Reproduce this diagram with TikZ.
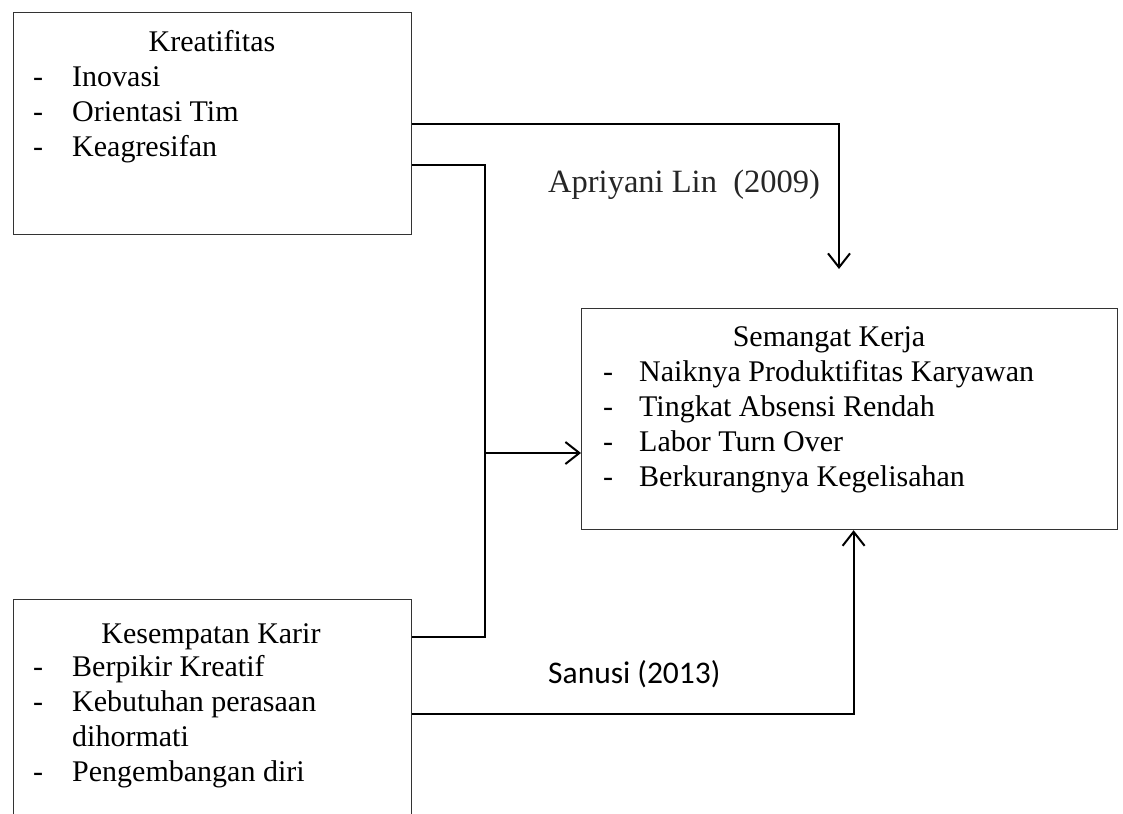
\documentclass[tikz,border=0pt]{standalone}
\usepackage{fontspec}
\setmainfont{Liberation Serif}
\newfontfamily\carlito{Carlito}
\usetikzlibrary{arrows.meta}
\tikzset{
  box/.style={draw=black!80, line width=1.2pt, rectangle, inner sep=0pt, anchor=north west},
  txt/.style={anchor=base west, inner sep=0pt, font=\fontsize{30}{34}\selectfont},
  ttl/.style={anchor=base, inner sep=0pt, font=\fontsize{30}{34}\selectfont},
  conn/.style={line width=2pt, black},
  arr/.style={conn, -{Straight Barb[length=14pt,width=22pt]}},
  lbl/.style={anchor=base west, inner sep=0pt}
}
\begin{document}
\begin{tikzpicture}[x=1pt,y=-1pt]
\useasboundingbox (0,0) rectangle (1123,813);
\begin{scope}
\clip (0,0) rectangle (1123,813);
% boxes
\node[box, minimum width=398pt, minimum height=222pt] (k) at (13,12) {};
\node[box, minimum width=536pt, minimum height=221pt] (m) at (581,308) {};
\node[box, minimum width=398pt, minimum height=228pt] (s) at (13,599) {};
\end{scope}
% Kreatifitas
\node[ttl] (k0) at (212,52) {Kreatifitas};
\node[txt] (kd1) at (33,87) {-};
\node[txt] (k1) at (72,87) {Inovasi};
\node[txt] (kd2) at (33,122) {-};
\node[txt] (k2) at (72,122) {Orientasi Tim};
\node[txt] (kd3) at (33,157) {-};
\node[txt] (k3) at (72,157) {Keagresifan};
% Semangat Kerja
\node[ttl] (m0) at (829,346) {Semangat Kerja};
\node[txt] (md1) at (603,381) {-};
\node[txt] (m1) at (639,381) {Naiknya Produktifitas Karyawan};
\node[txt] (md2) at (603,416) {-};
\node[txt] (m2) at (639,416) {Tingkat Absensi Rendah};
\node[txt] (md3) at (603,451) {-};
\node[txt] (m3) at (639,451) {Labor Turn Over};
\node[txt] (md4) at (603,486) {-};
\node[txt] (m4) at (639,486) {Berkurangnya Kegelisahan};
% Kesempatan Karir
\node[ttl] (s0) at (211,643) {Kesempatan Karir};
\node[txt] (sd1) at (33,676) {-};
\node[txt] (s1) at (72,676) {Berpikir Kreatif};
\node[txt] (sd2) at (33,711) {-};
\node[txt] (s2) at (72,711) {Kebutuhan perasaan};
\node[txt] (s3) at (72,746) {dihormati};
\node[txt] (sd4) at (33,781) {-};
\node[txt] (s4) at (72,781) {Pengembangan diri};
% labels
\node[lbl, text=black!85, font=\fontsize{32.5}{36}\selectfont] (la) at (548,192) {Apriyani Lin\ \ (2009)};
\node[lbl, font=\carlito\fontsize{31.5}{36}\selectfont] (lb) at (548,683) {Sanusi (2013)};
% connectors
\coordinate (a1) at (839,269);
\coordinate (jt) at (485,165);
\coordinate (jb) at (485,637);
\coordinate (jm) at (485,453);
\draw[arr] (k.east) -| (a1);
\draw[conn] (k.east |- jt) -- (jt) -- (jb) -- (s.east |- jb);
\draw[arr] (jm) -- (jm -| m.west);
\draw[arr] (s.east) -| ([xshift=4pt]m.south);
\end{tikzpicture}
\end{document}
